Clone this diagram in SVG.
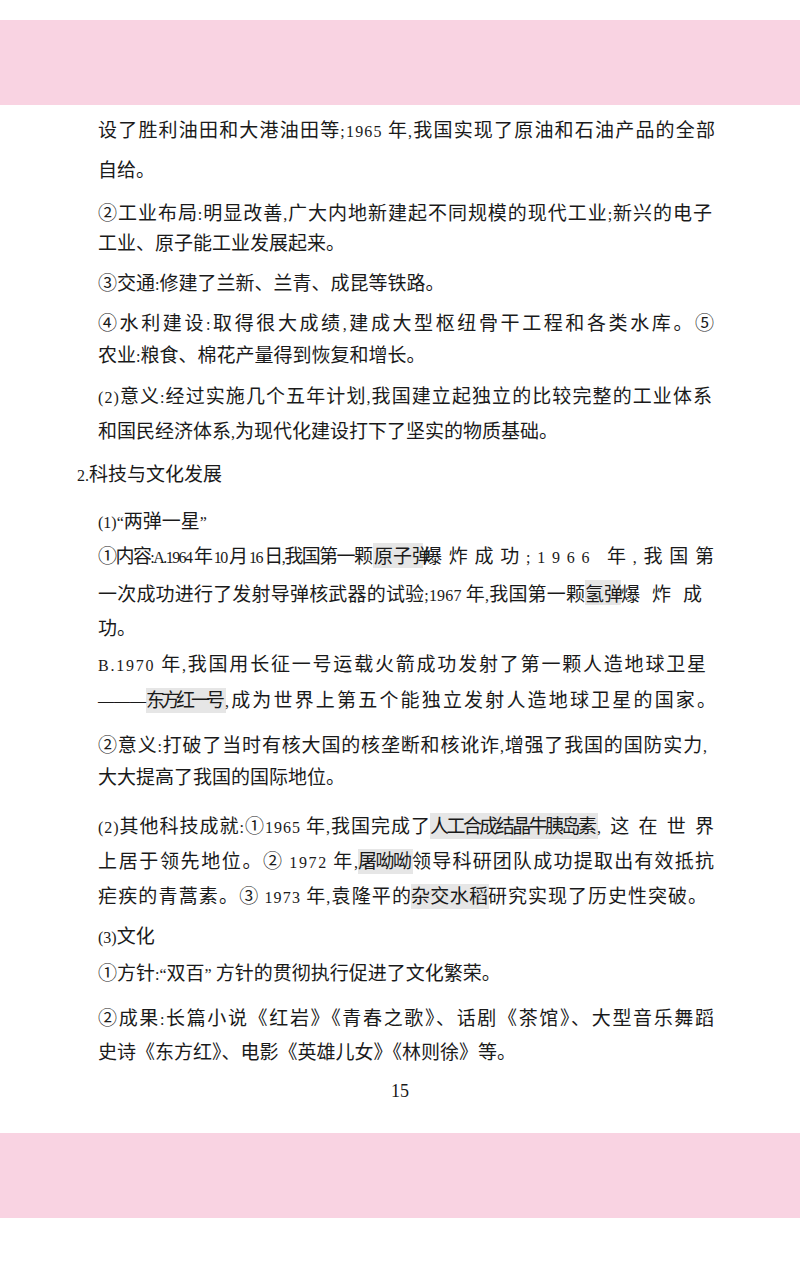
<svg xmlns="http://www.w3.org/2000/svg" width="800" height="1279" viewBox="0 0 800 1279">
<style>
text{font-family:"Liberation Serif","Noto Sans CJK SC",sans-serif;font-size:19px;fill:#1a1a1a}
.l{font-size:16px}
.hl{fill:#e6e6e6}
</style>
<rect width="800" height="1279" fill="#fff"/>
<rect x="0" y="20" width="800" height="85" fill="#f9d3e2"/>
<rect x="0" y="1133" width="800" height="85" fill="#f9d3e2"/>
<g id="highlights">
<rect class="hl" x="373" y="543" width="50" height="25"/>
<rect class="hl" x="585" y="580" width="36" height="25"/>
<rect class="hl" x="146" y="688" width="80" height="25"/>
<rect class="hl" x="430" y="813" width="168" height="26"/>
<rect class="hl" x="358" y="849" width="55" height="25"/>
<rect class="hl" x="411" y="884" width="78" height="25"/>
</g>
<g id="text">
<text x="98" y="137" textLength="617" lengthAdjust="spacing">设了胜利油田和大港油田等<tspan class="l">;1965 </tspan>年<tspan class="l">,</tspan>我国实现了原油和石油产品的全部</text>
<text x="98" y="177">自给。</text>
<text x="98" y="220" textLength="614" lengthAdjust="spacing">②工业布局<tspan class="l">:</tspan>明显改善<tspan class="l">,</tspan>广大内地新建起不同规模的现代工业<tspan class="l">;</tspan>新兴的电子</text>
<text x="98" y="250">工业、原子能工业发展起来。</text>
<text x="98" y="290">③交通<tspan class="l">:</tspan>修建了兰新、兰青、成昆等铁路。</text>
<text x="98" y="330" textLength="616" lengthAdjust="spacing">④水利建设<tspan class="l">:</tspan>取得很大成绩<tspan class="l">,</tspan>建成大型枢纽骨干工程和各类水库。⑤</text>
<text x="98" y="362">农业<tspan class="l">:</tspan>粮食、棉花产量得到恢复和增长。</text>
<text x="98" y="403" textLength="614" lengthAdjust="spacing"><tspan class="l">(2)</tspan>意义<tspan class="l">:</tspan>经过实施几个五年计划<tspan class="l">,</tspan>我国建立起独立的比较完整的工业体系</text>
<text x="98" y="438">和国民经济体系<tspan class="l">,</tspan>为现代化建设打下了坚实的物质基础。</text>
<text x="77" y="481"><tspan class="l">2.</tspan>科技与文化发展</text>
<text x="98" y="528"><tspan class="l">(1)“</tspan>两弹一星<tspan class="l">”</tspan></text>
<text x="98" y="563" textLength="275" lengthAdjust="spacing">①内容<tspan class="l">:A.1964 </tspan>年<tspan class="l"> 10 </tspan>月<tspan class="l"> 16 </tspan>日<tspan class="l">,</tspan>我国第一颗</text>
<text x="374" y="563">原子弹</text>
<text x="423" y="563" textLength="291" lengthAdjust="spacing">爆炸成功<tspan class="l">;1966 </tspan>年<tspan class="l">,</tspan>我国第</text>
<text x="98" y="601" textLength="487" lengthAdjust="spacing">一次成功进行了发射导弹核武器的试验<tspan class="l">;1967 </tspan>年<tspan class="l">,</tspan>我国第一颗</text>
<text x="585" y="601">氢弹</text>
<text x="621" y="601" textLength="81" lengthAdjust="spacing">爆炸成</text>
<text x="98" y="635">功。</text>
<text x="98" y="671" textLength="608" lengthAdjust="spacing"><tspan class="l">B.1970 </tspan>年<tspan class="l">,</tspan>我国用长征一号运载火箭成功发射了第一颗人造地球卫星</text>
<text x="98" y="707" textLength="48" lengthAdjust="spacingAndGlyphs">———</text>
<text x="146" y="707" textLength="79" lengthAdjust="spacing">东方红一号</text>
<text x="225" y="707" textLength="491" lengthAdjust="spacing"><tspan class="l">,</tspan>成为世界上第五个能独立发射人造地球卫星的国家。</text>
<text x="98" y="752" textLength="609" lengthAdjust="spacing">②意义<tspan class="l">:</tspan>打破了当时有核大国的核垄断和核讹诈<tspan class="l">,</tspan>增强了我国的国防实力<tspan class="l">,</tspan></text>
<text x="98" y="784">大大提高了我国的国际地位。</text>
<text x="98" y="833" textLength="332" lengthAdjust="spacing"><tspan class="l">(2)</tspan>其他科技成就<tspan class="l">:</tspan>①<tspan class="l">1965 </tspan>年<tspan class="l">,</tspan>我国完成了</text>
<text x="430" y="833" textLength="167" lengthAdjust="spacing">人工合成结晶牛胰岛素</text>
<text x="597" y="833" textLength="117" lengthAdjust="spacing"><tspan class="l">,</tspan>这在世界</text>
<text x="98" y="868" textLength="260" lengthAdjust="spacing">上居于领先地位。②<tspan class="l"> 1972 </tspan>年<tspan class="l">,</tspan></text>
<text x="358" y="868" textLength="54" lengthAdjust="spacing">屠呦呦</text>
<text x="412" y="868" textLength="302" lengthAdjust="spacing">领导科研团队成功提取出有效抵抗</text>
<text x="98" y="903" textLength="313" lengthAdjust="spacing">疟疾的青蒿素。③<tspan class="l"> 1973 </tspan>年<tspan class="l">,</tspan>袁隆平的</text>
<text x="411" y="903" textLength="77" lengthAdjust="spacing">杂交水稻</text>
<text x="488" y="903" textLength="219" lengthAdjust="spacing">研究实现了历史性突破。</text>
<text x="98" y="943"><tspan class="l">(3)</tspan>文化</text>
<text x="98" y="980">①方针<tspan class="l">:“</tspan>双百<tspan class="l">” </tspan>方针的贯彻执行促进了文化繁荣。</text>
<text x="98" y="1025" textLength="616" lengthAdjust="spacing">②成果<tspan class="l">:</tspan>长篇小说《红岩》《青春之歌》、话剧《茶馆》、大型音乐舞蹈</text>
<text x="98" y="1059">史诗《东方红》、电影《英雄儿女》《林则徐》等。</text>
<text x="400" y="1097" text-anchor="middle" class="l" style="font-size:18px">15</text>
</g>
</svg>
